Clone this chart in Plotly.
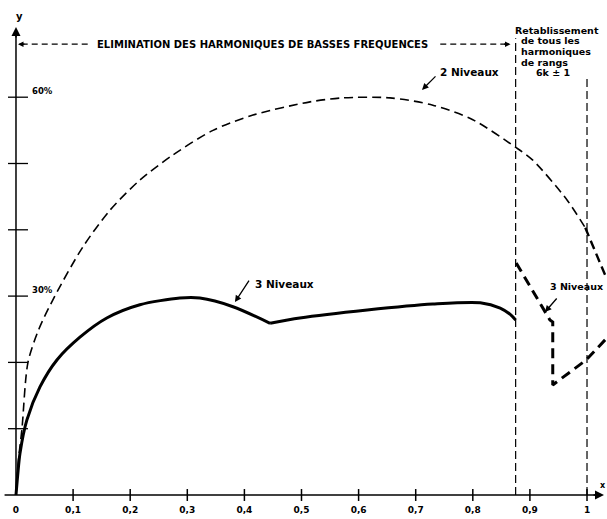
import plotly.graph_objects as go

# ---- data -------------------------------------------------------------
# 2-level inverter curve (y in %)
two_x = [0, 0.004, 0.0105, 0.021, 0.04, 0.068, 0.117, 0.165, 0.217, 0.275,
         0.345, 0.415, 0.515, 0.573, 0.655, 0.73, 0.80, 0.874, 0.905, 0.965,
         0.997, 1.035]
two_y = [0, 5, 10, 20, 25, 30, 37.4, 43, 47.5, 51.3,
         55, 57.3, 59.3, 59.9, 59.9, 58.8, 56.6, 52.5, 50.5, 44.5,
         40.3, 32.5]

# 3-level curve, rising branch up to the kink
three_a_x = [0, 0.003, 0.007, 0.019, 0.042, 0.072, 0.112, 0.159, 0.217,
             0.287, 0.322, 0.38, 0.445]
three_a_y = [0, 3, 6.3, 11.3, 16.3, 20.4, 23.8, 26.7, 28.7,
             29.7, 29.7, 28.4, 25.9]
# 3-level curve, second branch up to the limit of low-order elimination
three_b_x = [0.445, 0.497, 0.615, 0.73, 0.813, 0.848, 0.866, 0.875]
three_b_y = [25.9, 26.7, 27.9, 28.8, 29.0, 28.2, 27.2, 26.4]
# 3-level curve once all 6k +/- 1 harmonics are restored
three_c_x = [0.876, 0.935, 0.94, 0.94, 0.999, 1.035]
three_c_y = [35.0, 26.4, 26.1, 16.6, 20.4, 23.7]

x_ticks = [0, 0.1, 0.2, 0.3, 0.4, 0.5, 0.6, 0.7, 0.8, 0.9, 1]
x_tick_text = ["0", "0,1", "0,2", "0,3", "0,4", "0,5", "0,6", "0,7", "0,8", "0,9", "1"]
y_ticks = [10, 20, 30, 40, 50, 60]
y_tick_text = {60: "60%", 30: "30%"}

limit_low = 0.875   # end of the low-order elimination zone
limit_full = 1.0

X_RANGE = [-0.028, 1.035]
Y_RANGE = [-3.62, 74.66]

FONT = "DejaVu Sans"
INK = "black"

fig = go.Figure()

# 2-level curve (thin dashes up to 1, heavier afterwards)
n_split = two_x.index(0.997)
fig.add_trace(go.Scatter(x=two_x[:n_split + 1], y=two_y[:n_split + 1], mode="lines",
                         line=dict(color=INK, width=1.6, dash="9px,5px", shape="spline",
                                   smoothing=0.8),
                         hoverinfo="skip"))
fig.add_trace(go.Scatter(x=two_x[n_split:], y=two_y[n_split:], mode="lines",
                         line=dict(color=INK, width=2.4, dash="9px,5px"),
                         hoverinfo="skip"))

# 3-level curve
for xs, ys in ((three_a_x, three_a_y), (three_b_x, three_b_y)):
    fig.add_trace(go.Scatter(x=xs, y=ys, mode="lines",
                             line=dict(color=INK, width=3, shape="spline", smoothing=0.8),
                             hoverinfo="skip"))
fig.add_trace(go.Scatter(x=three_c_x, y=three_c_y, mode="lines",
                         line=dict(color=INK, width=3, dash="10px,6px"),
                         hoverinfo="skip"))

shapes = []
# axes
shapes.append(dict(type="line", x0=0, x1=0, y0=0, y1=70.3, line=dict(color=INK, width=1.5)))
shapes.append(dict(type="line", x0=-0.02, x1=1.02, y0=0, y1=0, line=dict(color=INK, width=1.5)))
# tick crosses
for v in x_ticks[1:]:
    shapes.append(dict(type="line", x0=v, x1=v, y0=-0.9, y1=0.9, line=dict(color=INK, width=1.5)))
for v in y_ticks:
    shapes.append(dict(type="line", x0=-0.014, x1=0.021, y0=v, y1=v, line=dict(color=INK, width=1.3)))
# vertical limits
shapes.append(dict(type="line", x0=limit_low, x1=limit_low, y0=0, y1=68.9,
                   line=dict(color=INK, width=1.2, dash="8px,4px")))
shapes.append(dict(type="line", x0=limit_full, x1=limit_full, y0=0, y1=62.9,
                   line=dict(color=INK, width=1.2, dash="8px,4px")))
# zone arrow (dashed shafts)
shapes.append(dict(type="line", x0=0.01, x1=0.13, y0=68.0, y1=68.0,
                   line=dict(color=INK, width=1.1, dash="6px,4px")))
shapes.append(dict(type="line", x0=0.743, x1=0.862, y0=68.0, y1=68.0,
                   line=dict(color=INK, width=1.1, dash="6px,4px")))

ann = []


def text(x, y, s, size=10, xanchor="center"):
    ann.append(dict(x=x, y=y, text=s, showarrow=False, xanchor=xanchor, yanchor="middle",
                    font=dict(family=FONT, size=size, color=INK, weight="bold")))


def arrow(x, y, ax, ay, width=1.3, head=2, size=1.0):
    ann.append(dict(x=x, y=y, ax=ax, ay=ay, text="", showarrow=True, arrowhead=head,
                    arrowsize=size, arrowwidth=width, arrowcolor=INK,
                    xref="x", yref="y", axref="pixel", ayref="pixel"))


# axis arrows and names
arrow(0, 70.6, 0, 12, width=1.5, head=2, size=1.2)
arrow(1.0298, 0, -12, 0, width=1.5, head=2, size=1.2)
text(0.007, 72.2, "y", size=10)
text(1.019, 1.5, "x", size=8, xanchor="left")

for v, s in y_tick_text.items():
    text(0.024, v + 0.9, s, size=8.5, xanchor="left")

# zone arrow heads and caption
arrow(0.0035, 68.0, 8, 0, width=1.1, head=2, size=1.0)
arrow(0.866, 68.0, -8, 0, width=1.1, head=2, size=1.0)
text(0.4317, 68.0, "ELIMINATION DES HARMONIQUES DE BASSES FREQUENCES", size=10)

# right caption block
text(0.870, 70.1, "Retablissement", size=9.5, xanchor="left")
text(0.881, 68.5, "de tous les", size=9.5, xanchor="left")
text(0.881, 66.9, "harmoniques", size=9.5, xanchor="left")
text(0.881, 65.3, "de rangs", size=9.5, xanchor="left")
text(0.940, 63.8, "6k ± 1", size=9.5)

# curve labels
text(0.795, 63.8, "2 Niveaux", size=10.5)
arrow(0.711, 61.1, 15, -15, width=1.3)
text(0.471, 31.8, "3 Niveaux", size=10.5)
arrow(0.3835, 29.1, 15, -23, width=1.3)
text(0.9317, 31.4, "3 Niveaux", size=9.5, xanchor="left")
arrow(0.9264, 27.6, 13, -15, width=1.3)

fig.update_layout(
    width=607, height=519,
    margin=dict(l=0, r=0, t=0, b=0),
    paper_bgcolor="white", plot_bgcolor="white",
    showlegend=False,
    shapes=shapes,
    annotations=ann,
    xaxis=dict(range=X_RANGE, showgrid=False, zeroline=False, showline=False,
               tickvals=x_ticks, ticktext=x_tick_text, ticks="",
               anchor="free", position=24 / 519, ticklabelstandoff=8,
               tickfont=dict(family=FONT, size=9, color=INK, weight="bold")),
    yaxis=dict(range=Y_RANGE, visible=False),
)

fig.write_html("out.html")
